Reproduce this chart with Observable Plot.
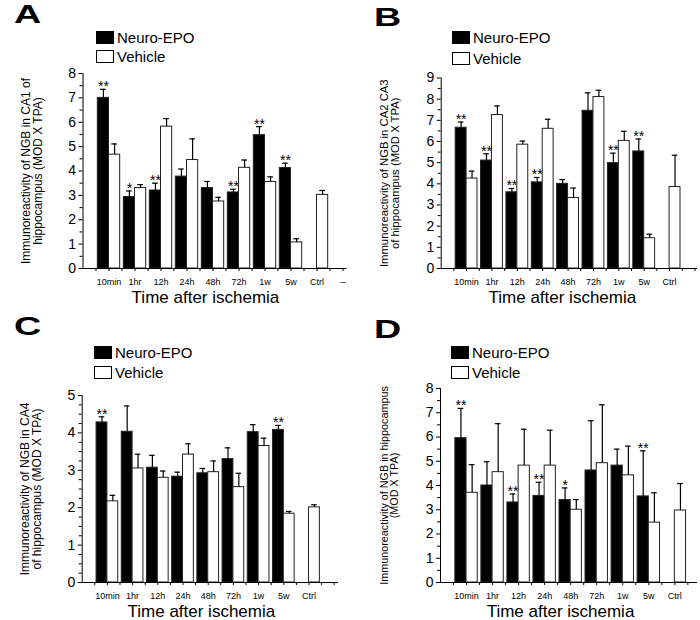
<!DOCTYPE html>
<html>
<head>
<meta charset="utf-8">
<script src="https://cdn.jsdelivr.net/npm/d3@7"></script>
<script src="https://cdn.jsdelivr.net/npm/@observablehq/plot@0.6"></script>
<style>
  body { margin: 0; background: #fff; }
  #root { position: relative; width: 700px; height: 620px; background: #fff; font-family: "Liberation Sans", Arial, sans-serif; color: #000; }
  .panel { position: absolute; width: 350px; height: 310px; }
  .panel svg { position: absolute; left: 0; top: 0; }
  .letter { position: absolute; font-weight: bold; font-size: 26px; line-height: 1; transform: scaleX(1.45); transform-origin: left top; }
  .legend { position: absolute; font-size: 15px; }
  .legend .row { display: flex; align-items: center; white-space: nowrap; }
  .legend .sw { width: 16px; height: 11px; border: 1px solid #000; margin-right: 3px; box-sizing: content-box; }
</style>
</head>
<body>
<div id="root"></div>
<script>
// ---------- data ----------
const times = ["10min", "1hr", "12h", "24h", "48h", "72h", "1w", "5w", "Ctrl"];
const tickLabelsA = ["10min", "1hr", "12h", "24h", "48h", "72h", "1w", "5w", "Ctrl", "–"];
const series = ["Neuro-EPO", "Vehicle"];

// Panel A: CA1
const neuroA    = [7.00, 2.93, 3.20, 3.77, 3.30, 3.12, 5.47, 4.12, null];
const neuroErrA = [0.35, 0.25, 0.30, 0.31, 0.27, 0.13, 0.35, 0.20, null];
const vehA      = [4.67, 3.30, 5.82, 4.45, 2.75, 4.13, 3.55, 1.07, 3.02];
const vehErrA   = [0.44, 0.14, 0.33, 0.87, 0.17, 0.32, 0.21, 0.15, 0.18];
const starsA    = ["**", "*", "**", "", "", "**", "**", "**", ""];

// Panel B: CA2 CA3
const neuroB    = [6.65, 5.10, 3.60, 4.07, 4.00, 7.45, 4.98, 5.53, null];
const neuroErrB = [0.27, 0.32, 0.18, 0.23, 0.20, 0.85, 0.47, 0.59, null];
const vehB      = [4.25, 7.25, 5.85, 6.60, 3.33, 8.10, 6.03, 1.43, 3.85];
const vehErrB   = [0.35, 0.43, 0.17, 0.45, 0.47, 0.32, 0.45, 0.19, 1.50];
const starsB    = ["**", "**", "**", "**", "", "", "**", "**", ""];

// Panel C: CA4
const neuroC    = [4.28, 4.03, 3.07, 2.83, 2.92, 3.30, 4.02, 4.08, null];
const neuroErrC = [0.15, 0.69, 0.33, 0.12, 0.13, 0.30, 0.20, 0.12, null];
const vehC      = [2.17, 3.05, 2.80, 3.42, 2.95, 2.55, 3.65, 1.84, 2.01];
const vehErrC   = [0.16, 0.38, 0.18, 0.29, 0.30, 0.37, 0.21, 0.06, 0.07];
const starsC    = ["**", "", "", "", "", "", "", "**", ""];

// Panel D: whole hippocampus
const neuroD    = [5.95, 4.00, 3.30, 3.57, 3.40, 4.62, 4.82, 3.55, null];
const neuroErrD = [1.23, 0.98, 0.35, 0.56, 0.50, 2.05, 0.68, 1.88, null];
const vehD      = [3.70, 4.55, 4.82, 4.82, 3.00, 4.92, 4.42, 2.47, 2.97];
const vehErrD   = [1.16, 2.00, 1.50, 1.46, 0.42, 2.41, 1.20, 1.23, 1.11];
const starsD    = ["**", "", "**", "**", "*", "", "", "**", ""];

const yTitleA = "Immunoreactivity of NGB in CA1 of\nhippocampus (MOD X TPA)";
const yTitleB = "Immunoreactivity of NGB in CA2 CA3\nof hippocampus (MOD X TPA)";
const yTitleC = "Immunoreactivity of NGB in CA4\nof hippocampus (MOD X TPA)";
const yTitleD = "Immunoreactivity of NGB in hippocampus\n(MOD X TPA)";
const xTitle = "Time after ischemia";

// ---------- layout ----------
const FONT = "'Liberation Sans', Arial, sans-serif";
const HALF = 0.43;   // bar width in x units
const CAP = 0.11;    // half cap width in x units

function buildRows(neuro, neuroErr, veh, vehErr, stars) {
  const rows = [];
  times.forEach((t, k) => {
    const i = k + 1;
    if (neuro[k] != null) rows.push({i, s: 0, value: neuro[k], top: neuro[k] + neuroErr[k], star: stars[k], c: i - HALF / 2});
    if (veh[k] != null) rows.push({i, s: 1, value: veh[k], top: veh[k] + vehErr[k], star: "", c: i + HALF / 2});
  });
  return rows;
}

function range(a, b, step) { const r = []; for (let v = a; v <= b + 1e-9; v += step) r.push(+v.toFixed(4)); return r; }

function makePanel(cfg) {
  const rows = buildRows(cfg.neuro, cfg.neuroErr, cfg.veh, cfg.vehErr, cfg.stars);
  const major = range(0, cfg.yMax, 1);
  const minor = range(0, cfg.yMax, cfg.minorStep).filter(v => !Number.isInteger(v));
  const labels = cfg.tickLabels;
  const plot = Plot.plot({
    width: 350, height: 310,
    marginLeft: cfg.ml, marginRight: cfg.mr, marginTop: cfg.mt, marginBottom: cfg.mb,
    style: {fontFamily: FONT, color: "#000", background: "transparent", overflow: "visible"},
    x: {domain: [0, cfg.xMax], axis: null},
    y: {domain: [0, cfg.yMax], axis: null},
    marks: [
      Plot.rectY(rows, {
        x1: d => d.s === 0 ? d.i - HALF : d.i,
        x2: d => d.s === 0 ? d.i : d.i + HALF,
        y: "value",
        fill: d => d.s === 0 ? "#000" : "#fff",
        stroke: "#222", strokeWidth: 1
      }),
      Plot.ruleX(rows, {x: "c", y1: "value", y2: "top", stroke: "#000", strokeWidth: 1.2}),
      Plot.ruleY(rows, {y: "top", x1: d => d.c - CAP, x2: d => d.c + CAP, stroke: "#000", strokeWidth: 1.2}),
      Plot.text(rows.filter(d => d.star), {x: "c", y: "top", text: "star", lineAnchor: "bottom", dy: 2, fontSize: 14, fill: "#000"}),
      Plot.axisY({ticks: major, tickSize: 4, tickPadding: 3, fontSize: 14, tickFormat: d3.format("d"), label: null, anchor: "left"}),
      Plot.axisY({ticks: minor, tickSize: 3, tickFormat: () => "", label: null, anchor: "left"}),
      Plot.ruleX([0], {stroke: "#000", strokeWidth: 1}),
      Plot.ruleY([0], {stroke: "#000", strokeWidth: 1}),
      Plot.axisX({ticks: range(0.5, cfg.xMax, 0.5), tickSize: 3, tickFormat: () => "", label: null, anchor: "bottom"}),
      Plot.axisX({ticks: labels.map((_, k) => k + 1), tickSize: 0, tickPadding: 10, tickFormat: v => labels[v - 1], fontSize: 9, label: null, anchor: "bottom"}),
      Plot.text([xTitle], {frameAnchor: "bottom", text: d => d, lineAnchor: "top", dy: 22, dx: cfg.xdx, fontSize: 17, fill: "#000"}),
      Plot.text([cfg.yTitle], {frameAnchor: "left", textAnchor: "middle", lineAnchor: "middle", text: d => d, rotate: -90, dx: -51, lineHeight: 1.0, fontSize: cfg.yfs, fill: "#000"})
    ]
  });

  const div = document.createElement("div");
  div.className = "panel";
  div.style.left = cfg.left + "px";
  div.style.top = cfg.top + "px";
  div.appendChild(plot);

  const letter = document.createElement("div");
  letter.className = "letter";
  letter.textContent = cfg.letter;
  letter.style.left = cfg.letterX + "px";
  letter.style.top = cfg.letterY + "px";
  div.appendChild(letter);

  const legend = document.createElement("div");
  legend.className = "legend";
  legend.style.left = cfg.legX + "px";
  legend.style.top = cfg.legY + "px";
  series.forEach((name, k) => {
    const row = document.createElement("div");
    row.className = "row";
    row.style.height = cfg.legRow + "px";
    const sw = document.createElement("span");
    sw.className = "sw";
    sw.style.background = k === 0 ? "#000" : "#fff";
    const tx = document.createElement("span");
    tx.textContent = name;
    row.appendChild(sw); row.appendChild(tx);
    legend.appendChild(row);
  });
  div.appendChild(legend);
  document.getElementById("root").appendChild(div);
}

makePanel({letter: "A", left: 0, top: 0, ml: 82.5, mr: 3.6, mt: 73, mb: 42, xMax: 10.15, yMax: 8, minorStep: 0.5,
  neuro: neuroA, neuroErr: neuroErrA, veh: vehA, vehErr: vehErrA, stars: starsA, tickLabels: tickLabelsA,
  yTitle: yTitleA, yfs: 12, xdx: -9.5, letterX: 14, letterY: 1, legX: 96, legY: 28, legRow: 19});
makePanel({letter: "B", left: 350, top: 0, ml: 90.7, mr: 3, mt: 77.5, mb: 42, xMax: 10.1, yMax: 9, minorStep: 0.5,
  neuro: neuroB, neuroErr: neuroErrB, veh: vehB, vehErr: vehErrB, stars: starsB, tickLabels: times,
  yTitle: yTitleB, yfs: 11.3, xdx: -7, letterX: 24, letterY: 4, legX: 102, legY: 27, legRow: 21});
makePanel({letter: "C", left: 0, top: 310, ml: 81.7, mr: 12, mt: 85, mb: 38, xMax: 10.17, yMax: 5, minorStep: 0.25,
  neuro: neuroC, neuroErr: neuroErrC, veh: vehC, vehErr: vehErrC, stars: starsC, tickLabels: times,
  yTitle: yTitleC, yfs: 12, xdx: -9, letterX: 14, letterY: 3, legX: 94, legY: 32, legRow: 20});
makePanel({letter: "D", left: 350, top: 310, ml: 90, mr: 3, mt: 78, mb: 38, xMax: 9.87, yMax: 8, minorStep: 0.5,
  neuro: neuroD, neuroErr: neuroErrD, veh: vehD, vehErr: vehErrD, stars: starsD, tickLabels: times,
  yTitle: yTitleD, yfs: 10.8, xdx: -8.5, letterX: 24, letterY: 6, legX: 101, legY: 32, legRow: 20});
</script>
</body>
</html>
